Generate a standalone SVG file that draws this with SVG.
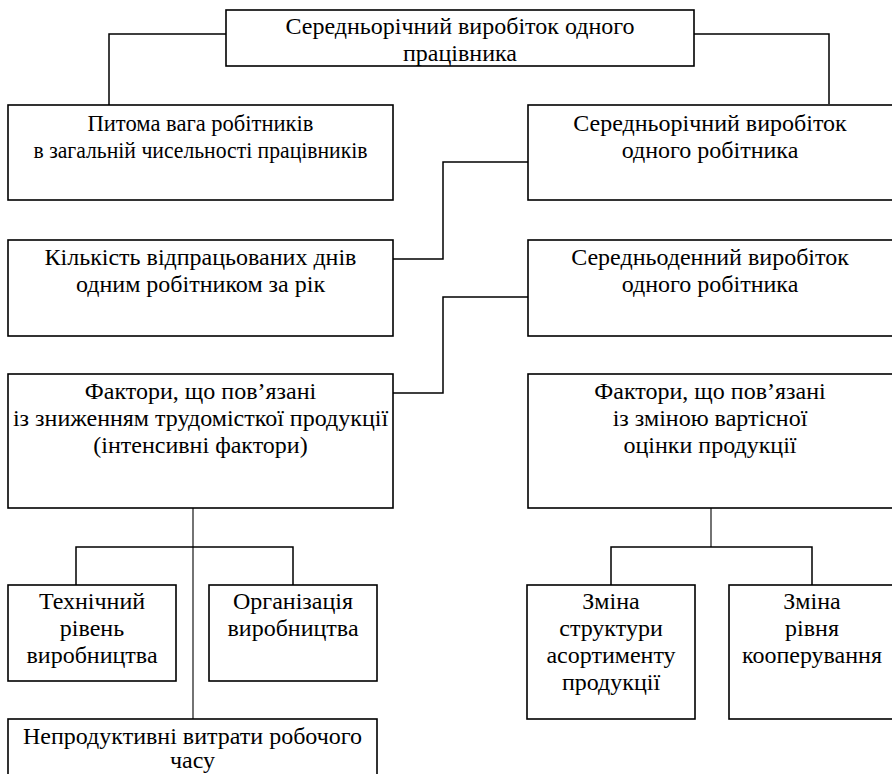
<svg xmlns="http://www.w3.org/2000/svg" width="892" height="774" viewBox="0 0 892 774">
<style>
rect{fill:#fff;stroke:#000;stroke-width:1.6}
text{font-size:24px;fill:#000;text-anchor:middle}
.c{fill:none;stroke:#000;stroke-width:1.5}
.t{fill:none;stroke:#000;stroke-width:1.1}
</style>
<rect width="892" height="774" style="fill:#fff;stroke:none"/>
<g id="connectors">
<path class="c" d="M226,34 H109 V105"/>
<path class="c" d="M694,34 H829 V104"/>
<path class="c" d="M528,162 H443 V259 H393"/>
<path class="c" d="M528,297 H443 V393 H393"/>
<path class="t" d="M193,508 V719"/>
<path class="c" d="M76,585 V547 H293 V585"/>
<path class="t" d="M711,508 V547"/>
<path class="c" d="M611,585 V547 H812 V585"/>
</g>
<g font-family="'Liberation Serif', 'Times New Roman', 'DejaVu Serif', serif">
<g id="n_top">
<rect x="226" y="10" width="468" height="56"/>
<text x="460" y="34">Середньорічний виробіток одного</text>
<text x="460" y="61">працівника</text>
</g>
<g id="n_share">
<rect x="8" y="105" width="385" height="95"/>
<text x="200.5" y="131" textLength="226" lengthAdjust="spacingAndGlyphs">Питома вага робітників</text>
<text x="200.5" y="158" textLength="334" lengthAdjust="spacingAndGlyphs">в загальній чисельності працівників</text>
</g>
<g id="n_worker_year">
<rect x="528" y="105" width="366" height="95"/>
<text x="710" y="131">Середньорічний виробіток</text>
<text x="710" y="158">одного робітника</text>
</g>
<g id="n_days">
<rect x="8" y="240" width="385" height="96"/>
<text x="200.5" y="265">Кількість відпрацьованих днів</text>
<text x="200.5" y="292">одним робітником за рік</text>
</g>
<g id="n_worker_day">
<rect x="528" y="240" width="366" height="96"/>
<text x="710" y="265">Середньоденний виробіток</text>
<text x="710" y="292">одного робітника</text>
</g>
<g id="n_factors_left">
<rect x="8" y="374" width="385" height="134"/>
<text x="200.5" y="399">Фактори, що пов’язані</text>
<text x="200.5" y="426">із зниженням трудомісткої продукції</text>
<text x="200.5" y="453">(інтенсивні фактори)</text>
</g>
<g id="n_factors_right">
<rect x="528" y="374" width="366" height="134"/>
<text x="710" y="399">Фактори, що пов’язані</text>
<text x="710" y="426">із зміною вартісної</text>
<text x="710" y="453">оцінки продукції</text>
</g>
<g id="n_tech">
<rect x="8" y="585" width="168" height="96"/>
<text x="92" y="609">Технічний</text>
<text x="92" y="636">рівень</text>
<text x="92" y="663">виробництва</text>
</g>
<g id="n_org">
<rect x="209" y="585" width="168" height="96"/>
<text x="293" y="609">Організація</text>
<text x="293" y="636">виробництва</text>
</g>
<g id="n_losses">
<rect x="8" y="719" width="369" height="80"/>
<text x="192.5" y="744">Непродуктивні витрати робочого</text>
<text x="192.5" y="768">часу</text>
</g>
<g id="n_structure">
<rect x="527" y="585" width="168" height="134"/>
<text x="611" y="609">Зміна</text>
<text x="611" y="636">структури</text>
<text x="611" y="663">асортименту</text>
<text x="611" y="690">продукції</text>
</g>
<g id="n_coop">
<rect x="729" y="585" width="166" height="134"/>
<text x="812" y="609">Зміна</text>
<text x="812" y="636">рівня</text>
<text x="812" y="663">кооперування</text>
</g>
</g>
</svg>
